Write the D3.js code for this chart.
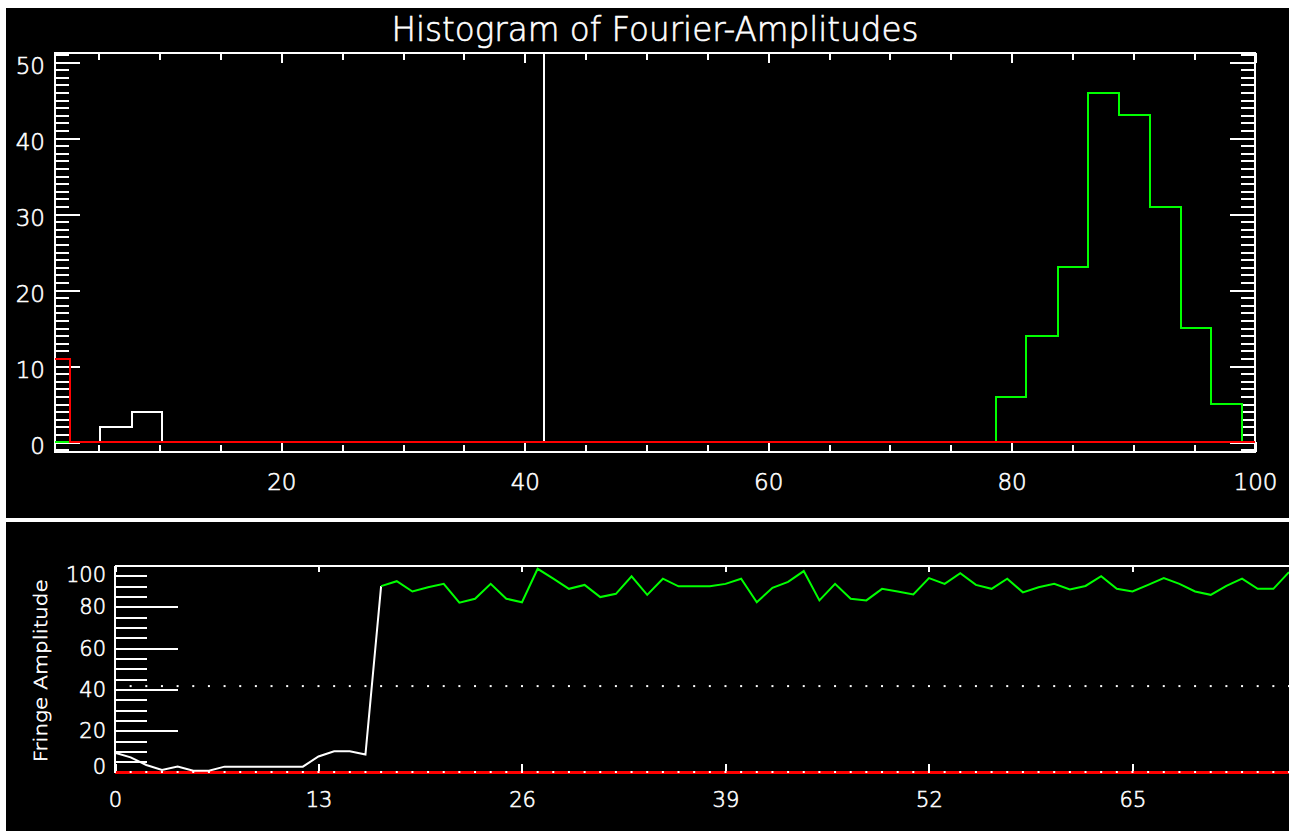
<!DOCTYPE html>
<html>
<head>
<meta charset="utf-8">
<script src="https://cdn.jsdelivr.net/npm/d3@7"></script>
<style>
  html, body { margin: 0; padding: 0; background: #ffffff; }
  svg { display: block; }
  text { font-family: "DejaVu Sans", sans-serif; font-weight: 200; fill: #ffffff; stroke: #ffffff; stroke-width: 0.6px; }
</style>
</head>
<body>
<svg id="chart" width="1289" height="831"></svg>
<script>
// ---------------- DATA ----------------
const titleText = "Histogram of Fourier-Amplitudes";
const yLabelText = "Fringe Amplitude";

// Top panel: histogram of Fourier amplitudes
const histXDomain = [1.4, 100];
const histYDomain = [-1.3, 51.2];
const histXTicks = [20, 40, 60, 80, 100];
const histYTicks = [0, 10, 20, 30, 40, 50];

// bin edges + counts for each histogram series
const whiteEdges = [5.1, 7.7, 10.2];
const whiteCounts = [2, 4];
const greenEdges = [78.7, 81.2, 83.8, 86.3, 88.8, 91.4, 93.9, 96.4, 98.9];
const greenCounts = [6, 14, 23, 46, 43, 31, 15, 5];
const redEdges = [1.4, 2.65];
const redCounts = [11];

const threshold = 41.6;

// Bottom panel: fringe amplitude per frame
const fringeXDomain = [0, 75];
const fringeYDomain = [0, 100];
const fringeXTicks = [0, 13, 26, 39, 52, 65];
const fringeYTicks = [0, 20, 40, 60, 80, 100];
const fringeAmp = [
  9.3, 7.1, 3.4, 1.0, 2.6, 0.6, 0.6, 2.6, 2.6, 2.6,
  2.6, 2.6, 2.6, 7.5, 10.0, 10.0, 8.5, 90.0, 92.4, 87.4,
  89.5, 91.1, 82.0, 83.9, 91.1, 83.9, 82.2, 98.4, 93.6, 88.7,
  90.6, 84.7, 86.3, 94.8, 85.8, 93.6, 89.9, 89.9, 89.9, 91.1,
  93.6, 82.2, 89.2, 92.1, 97.3, 83.1, 91.1, 83.9, 83.1, 88.7,
  87.4, 86.0, 93.9, 91.1, 96.3, 90.6, 88.7, 93.6, 87.0, 89.5,
  91.1, 88.4, 90.1, 94.8, 88.7, 87.4, 90.6, 93.9, 91.1, 87.4,
  85.8, 90.1, 93.6, 88.7, 88.7, 96.8
];
const fringeBaseline = 0;

// ---------------- LAYOUT ----------------
const svg = d3.select("#chart");
const W = 1289, H = 831;
const WHITE = "#ffffff", GREEN = "#00ff00", RED = "#ff0000";

// panel backgrounds
svg.append("rect").attr("x", 6).attr("y", 8).attr("width", W - 6).attr("height", 510).attr("fill", "#000");
svg.append("rect").attr("x", 6).attr("y", 522).attr("width", W - 6).attr("height", H - 522).attr("fill", "#000");

// ================= TOP PANEL =================
const tp = { left: 55, right: 1255, top: 53, bottom: 452 };
const hx = d3.scaleLinear().domain(histXDomain).range([tp.left, tp.right]);
const hy = d3.scaleLinear().domain(histYDomain).range([tp.bottom, tp.top]);

const topG = svg.append("g");

function styleAxis(g) {
  g.select(".domain").remove();
  g.selectAll(".tick line").attr("stroke", WHITE).attr("stroke-width", 2).attr("shape-rendering", "crispEdges");
  g.selectAll(".tick text").attr("fill", WHITE).attr("font-family", "DejaVu Sans, sans-serif").attr("font-weight", 200);
}

const inRange = (dom) => (v) => v >= Math.min(dom[0], dom[1]) - 1e-9 && v <= Math.max(dom[0], dom[1]) + 1e-9;

// minor ticks
const hyMinor = d3.range(-1, 52, 1).filter(inRange(histYDomain)).filter(v => v % 10 !== 0);
const hxMinor = d3.range(5, 100, 5).filter(v => v % 20 !== 0);

// left axis
topG.append("g").attr("transform", `translate(${tp.left},0)`)
  .call(d3.axisLeft(hy).tickValues(hyMinor).tickSize(-14).tickFormat(""))
  .call(styleAxis);
topG.append("g").attr("transform", `translate(${tp.left},0)`)
  .call(d3.axisLeft(hy).tickValues(histYTicks).tickSize(-25).tickPadding(10).tickFormat(d3.format("d")))
  .call(styleAxis)
  .call(g => g.selectAll(".tick text").attr("font-size", 23).attr("dy", "0.5em"));
// right axis
topG.append("g").attr("transform", `translate(${tp.right},0)`)
  .call(d3.axisRight(hy).tickValues(hyMinor).tickSize(-14).tickFormat(""))
  .call(styleAxis);
topG.append("g").attr("transform", `translate(${tp.right},0)`)
  .call(d3.axisRight(hy).tickValues(histYTicks).tickSize(-25).tickFormat(""))
  .call(styleAxis);
// bottom axis
topG.append("g").attr("transform", `translate(0,${tp.bottom})`)
  .call(d3.axisBottom(hx).tickValues(hxMinor).tickSize(-7).tickFormat(""))
  .call(styleAxis);
topG.append("g").attr("transform", `translate(0,${tp.bottom})`)
  .call(d3.axisBottom(hx).tickValues(histXTicks).tickSize(-10).tickPadding(22).tickFormat(d3.format("d")))
  .call(styleAxis)
  .call(g => g.selectAll(".tick text").attr("font-size", 23));
// top axis
topG.append("g").attr("transform", `translate(0,${tp.top})`)
  .call(d3.axisTop(hx).tickValues(hxMinor).tickSize(-7).tickFormat(""))
  .call(styleAxis);
topG.append("g").attr("transform", `translate(0,${tp.top})`)
  .call(d3.axisTop(hx).tickValues(histXTicks).tickSize(-10).tickFormat(""))
  .call(styleAxis);

// frame
topG.append("rect")
  .attr("x", tp.left).attr("y", tp.top)
  .attr("width", tp.right - tp.left).attr("height", tp.bottom - tp.top)
  .attr("fill", "none").attr("stroke", WHITE).attr("stroke-width", 2)
  .attr("shape-rendering", "crispEdges");

// title
svg.append("text")
  .attr("x", (tp.left + tp.right) / 2).attr("y", 41)
  .attr("text-anchor", "middle")
  .attr("font-size", 33)
  .attr("textLength", 527).attr("lengthAdjust", "spacingAndGlyphs")
  .text(titleText);

// histogram step paths
function stepPoints(edges, counts) {
  const [xmin, xmax] = histXDomain;
  const pts = [];
  if (edges[0] > xmin) { pts.push([xmin, 0]); pts.push([edges[0], 0]); }
  counts.forEach((c, i) => { pts.push([edges[i], c]); pts.push([edges[i + 1], c]); });
  pts.push([edges[edges.length - 1], 0]);
  pts.push([xmax, 0]);
  return pts;
}
const histLine = d3.line().x(d => hx(d[0])).y(d => hy(d[1]));

topG.append("path").datum(stepPoints(whiteEdges, whiteCounts))
  .attr("d", histLine).attr("fill", "none").attr("stroke", WHITE).attr("stroke-width", 2)
  .attr("shape-rendering", "crispEdges");
topG.append("path").datum(stepPoints(greenEdges, greenCounts))
  .attr("d", histLine).attr("fill", "none").attr("stroke", GREEN).attr("stroke-width", 2)
  .attr("shape-rendering", "crispEdges");
// threshold line
topG.append("line")
  .attr("x1", hx(threshold)).attr("x2", hx(threshold))
  .attr("y1", hy(0)).attr("y2", tp.top)
  .attr("stroke", WHITE).attr("stroke-width", 2).attr("shape-rendering", "crispEdges");
topG.append("path").datum(stepPoints(redEdges, redCounts))
  .attr("d", histLine).attr("fill", "none").attr("stroke", RED).attr("stroke-width", 2)
  .attr("shape-rendering", "crispEdges");

// ================= BOTTOM PANEL =================
const bp = { left: 115, right: 1289, top: 565.5, bottom: 772 };
const fx = d3.scaleLinear().domain(fringeXDomain).range([bp.left, bp.right]);
const fy = d3.scaleLinear().domain(fringeYDomain).range([bp.bottom, bp.top]);
const botG = svg.append("g");

const fyMinor = d3.range(5, 100, 5).filter(v => v % 20 !== 0);

// left axis ticks
botG.append("g").attr("transform", `translate(${bp.left},0)`)
  .call(d3.axisLeft(fy).tickValues(fyMinor).tickSize(-32).tickFormat(""))
  .call(styleAxis);
botG.append("g").attr("transform", `translate(${bp.left},0)`)
  .call(d3.axisLeft(fy).tickValues(fringeYTicks).tickSize(-63).tickFormat(""))
  .call(styleAxis);
// y labels (kept inside the axis span as in the original)
botG.append("g").selectAll("text").data(fringeYTicks).join("text")
  .attr("x", bp.left - 9)
  .attr("y", d => Math.max(bp.top + 8.5, Math.min(bp.bottom - 6, fy(d))))
  .attr("dy", "0.36em")
  .attr("text-anchor", "end")
  .attr("font-size", 21)
  .text(d => d);

// x ticks bottom (up) & top (down)
botG.append("g").attr("transform", `translate(0,${bp.bottom})`)
  .call(d3.axisBottom(fx).tickValues(fringeXTicks).tickSize(-8).tickPadding(20).tickFormat(d3.format("d")))
  .call(styleAxis)
  .call(g => g.selectAll(".tick text").attr("font-size", 21));
botG.append("g").attr("transform", `translate(0,${bp.top})`)
  .call(d3.axisTop(fx).tickValues(fringeXTicks).tickSize(-6).tickFormat(""))
  .call(styleAxis);

// axis lines
botG.append("line").attr("x1", bp.left).attr("x2", bp.right).attr("y1", bp.top).attr("y2", bp.top)
  .attr("stroke", WHITE).attr("stroke-width", 2).attr("shape-rendering", "crispEdges");
botG.append("line").attr("x1", bp.left).attr("x2", bp.left).attr("y1", bp.top).attr("y2", bp.bottom)
  .attr("stroke", WHITE).attr("stroke-width", 2).attr("shape-rendering", "crispEdges");

// y-axis title
botG.append("text")
  .attr("transform", `translate(47,${(bp.top + bp.bottom) / 2 + 2}) rotate(-90)`)
  .attr("text-anchor", "middle")
  .attr("font-size", 18)
  .attr("textLength", 183).attr("lengthAdjust", "spacingAndGlyphs")
  .text(yLabelText);

// threshold dotted line
const frameIdx = d3.range(fringeXDomain[0], fringeXDomain[1] + 1);
botG.append("g").selectAll("rect").data(frameIdx).join("rect")
  .attr("x", d => fx(d) - 1).attr("y", fy(threshold) - 1)
  .attr("width", 2).attr("height", 2).attr("fill", WHITE);

// red baseline with dots
botG.append("line").attr("x1", bp.left).attr("x2", bp.right)
  .attr("y1", fy(fringeBaseline)).attr("y2", fy(fringeBaseline))
  .attr("stroke", RED).attr("stroke-width", 3).attr("shape-rendering", "crispEdges");
botG.append("g").selectAll("rect").data(frameIdx).join("rect")
  .attr("x", d => fx(d) - 1).attr("y", fy(fringeBaseline) - 1)
  .attr("width", 2).attr("height", 2).attr("fill", WHITE);

// fringe curve: white below threshold, green from first point above threshold
const firstAbove = fringeAmp.findIndex(v => v > threshold);
const fLine = d3.line().x(d => fx(d[0])).y(d => fy(d[1]));
const pts = fringeAmp.map((v, i) => [i, v]);
botG.append("path").datum(pts.slice(0, firstAbove + 1))
  .attr("d", fLine).attr("fill", "none").attr("stroke", WHITE).attr("stroke-width", 2);
botG.append("path").datum(pts.slice(firstAbove))
  .attr("d", fLine).attr("fill", "none").attr("stroke", GREEN).attr("stroke-width", 2);
</script>
</body>
</html>
